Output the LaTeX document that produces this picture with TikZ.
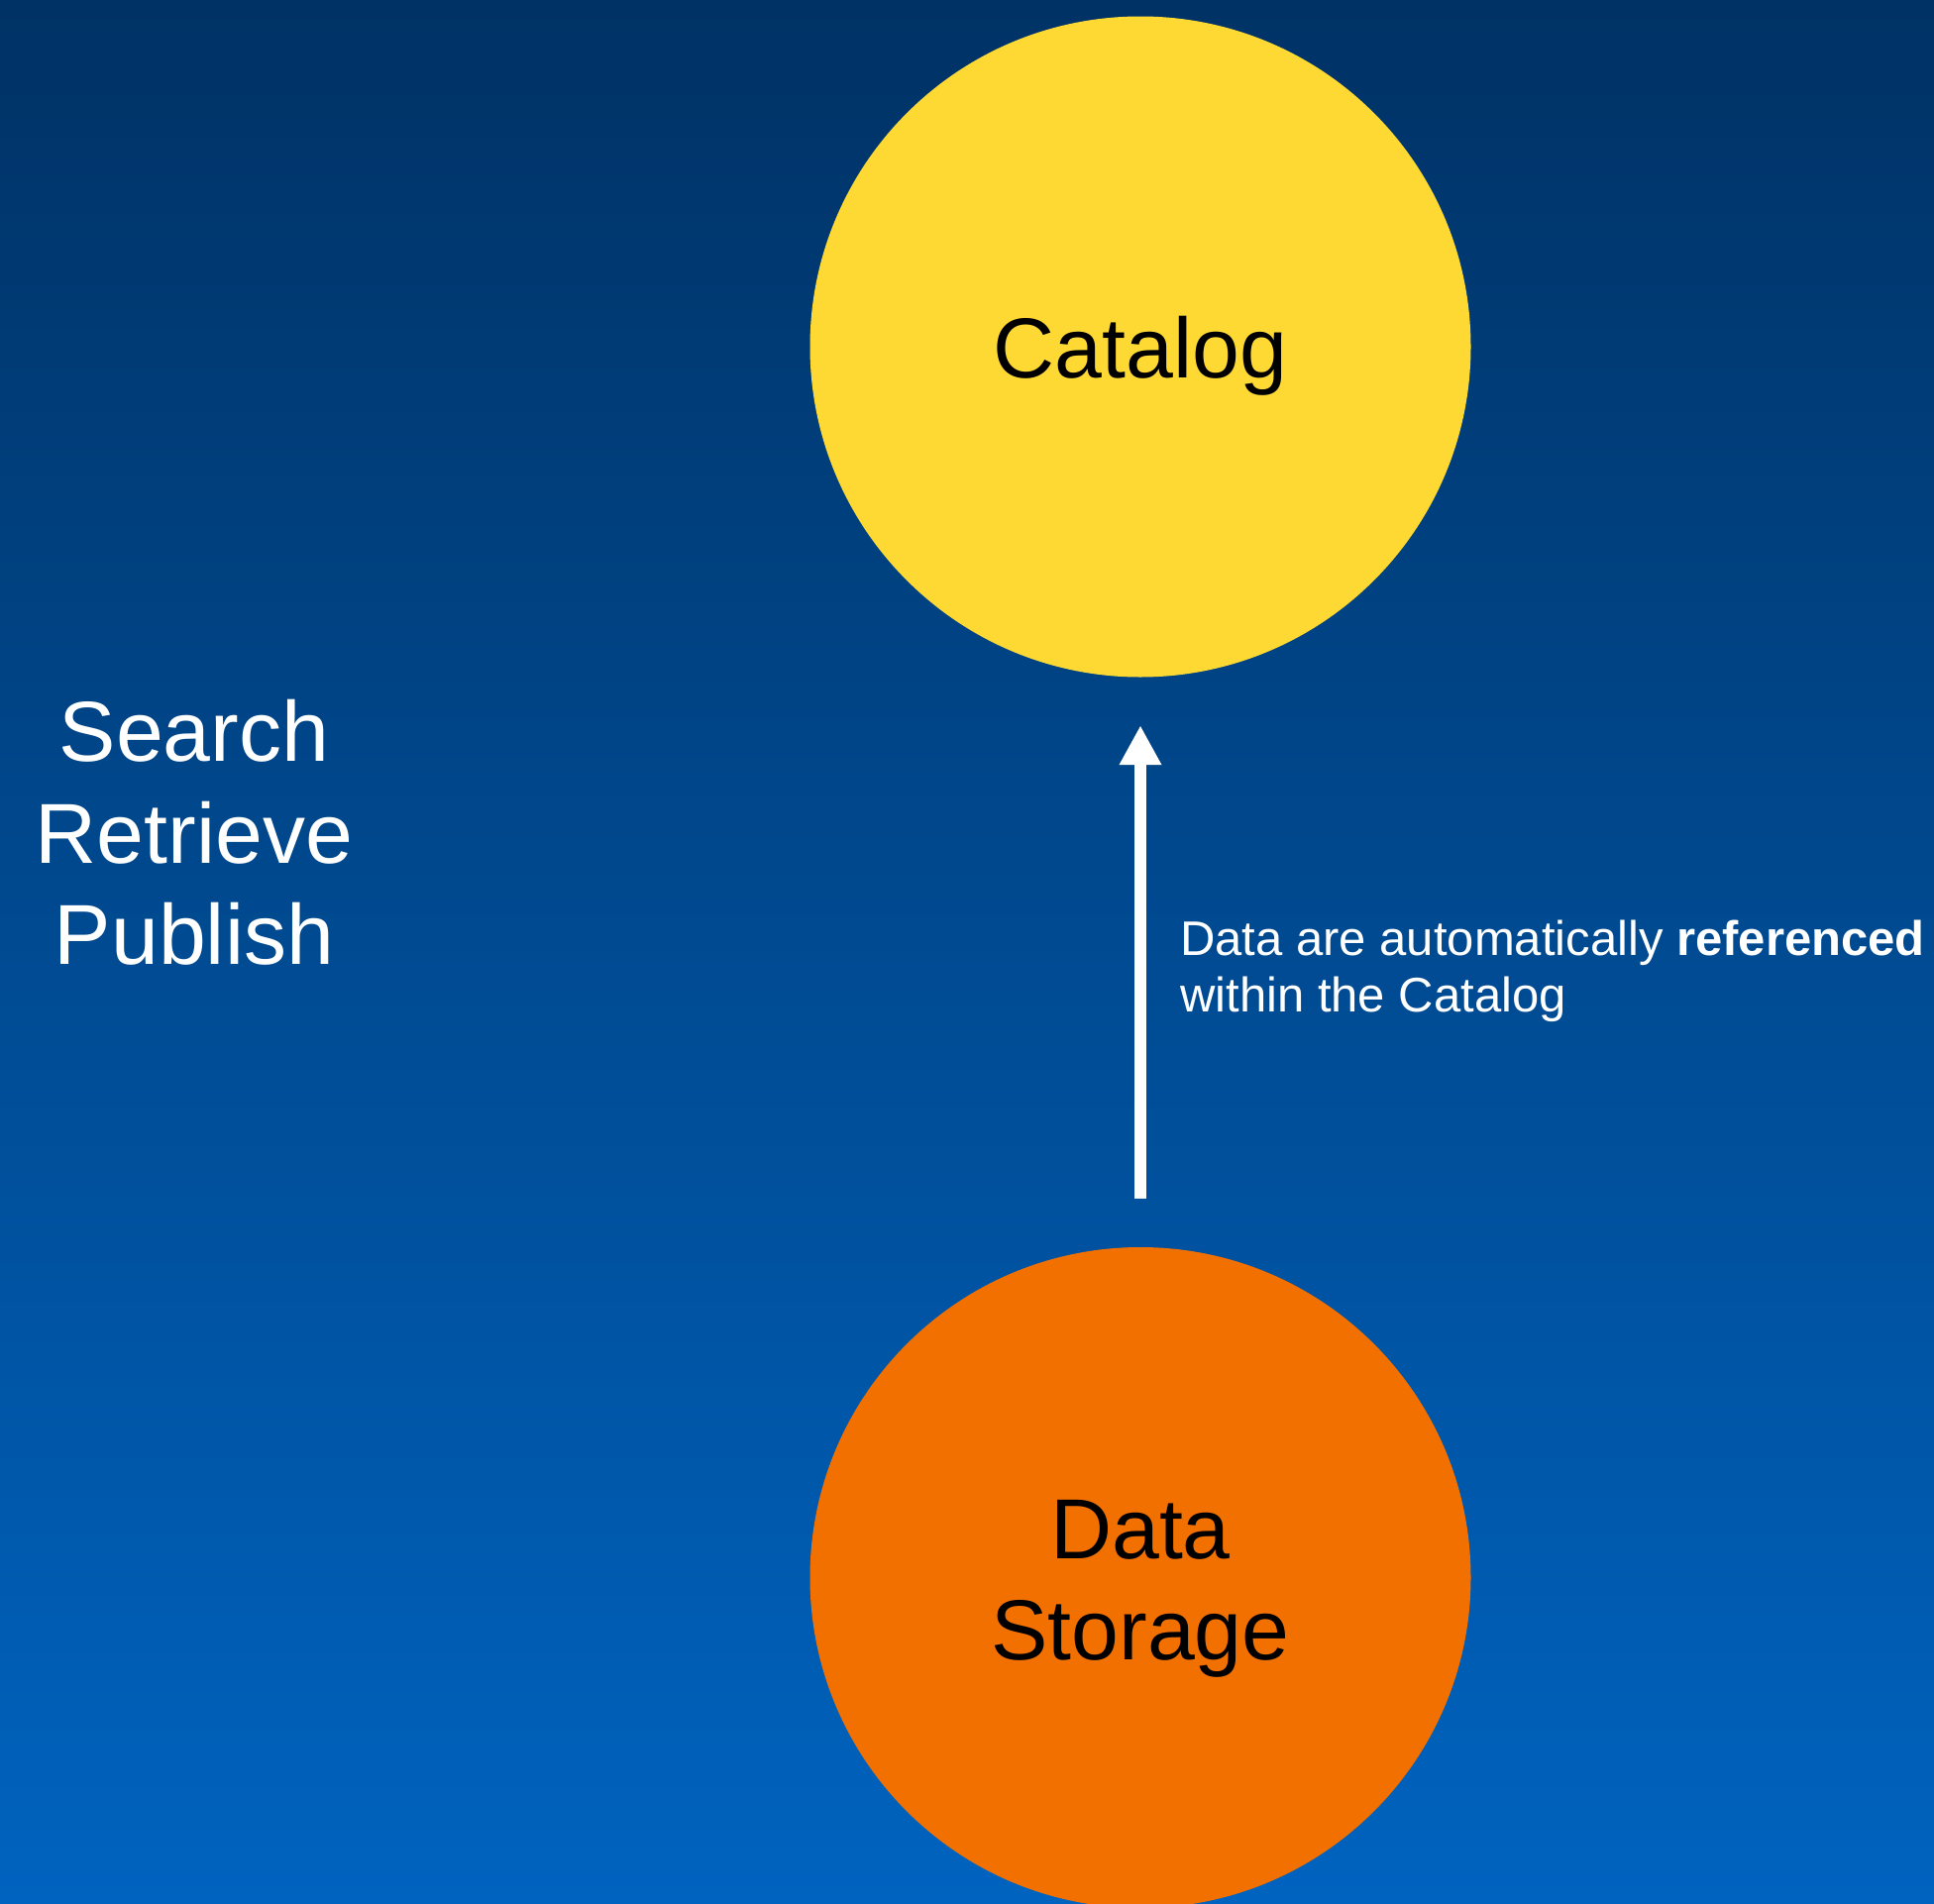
\documentclass[tikz,border=0pt]{standalone}
\usepackage{fontspec}
\setmainfont{Liberation Sans}
\usetikzlibrary{arrows.meta}
\definecolor{bgtop}{RGB}{0,50,101}
\definecolor{bgbot}{RGB}{0,99,191}
\definecolor{catyellow}{RGB}{255,217,51}
\definecolor{dsorange}{RGB}{242,112,0}
\tikzset{
  bubble/.style={circle, minimum size=667pt, inner sep=0pt, draw=none},
  bigtext/.style={anchor=base, inner sep=0pt, font=\fontsize{86}{102}\selectfont},
  smalltext/.style={anchor=base west, inner sep=0pt, text=white, font=\fontsize{49}{57}\selectfont},
  flowarrow/.style={draw=white, line width=12.5pt, -{Triangle[width=40pt,length=40pt]}}
}
\begin{document}
\begin{tikzpicture}[x=1pt,y=-1pt]
\useasboundingbox (0,0) rectangle (1952,1922);
\clip (0,0) rectangle (1952,1922);
\shade[top color=bgtop, bottom color=bgbot] (0,0) rectangle (1952,1922);
\node[bubble, fill=catyellow] (cat) at (1151,350) {};
\node[bubble, fill=dsorange] (ds) at (1151,1592.5) {};
\node[bigtext] (catlabel) at (1151,381) {Catalog};
\node[bigtext] (dslabel1) at (1151,1573) {Data};
\node[bigtext] (dslabel2) at (1151,1675) {Storage};
\node[bigtext, text=white] (search) at (196,768) {Search};
\node[bigtext, text=white] (retrieve) at (196,871) {Retrieve};
\node[bigtext, text=white] (publish) at (196,973) {Publish};
\draw[flowarrow, shorten <=49pt, shorten >=48.5pt] (ds) -- (cat);
\node[smalltext] (note1) at (1191,964) {Data are automatically \textbf{referenced}};
\node[smalltext] (note2) at (1191,1021) {within the Catalog};
\end{tikzpicture}
\end{document}
